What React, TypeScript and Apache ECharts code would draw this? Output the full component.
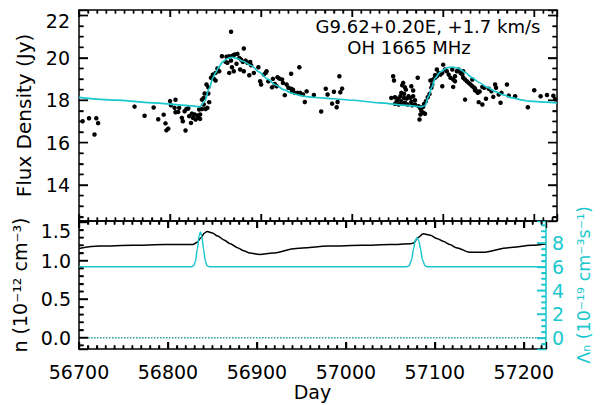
import { useEffect, useRef } from 'react';
import * as echarts from 'echarts';

// Single-dish monitoring of the OH 1665 MHz maser (MJD vs. flux density)
const obsDay = [
  56704, 56711, 56717, 56719, 56721, 56761, 56772, 56782, 56787, 56793,
  56795, 56798, 56796, 56800, 56801, 56806, 56805, 56806, 56809, 56810,
  56813, 56814, 56816, 56818, 56820, 56817, 56821, 56823, 56824, 56825,
  56827, 56828, 56830, 56831, 56833, 56833, 56835, 56837, 56839, 56841,
  56838, 56842, 56832, 56835, 56837, 56843, 56840, 56842, 56845, 56847,
  56848, 56850, 56850, 56852, 56854, 56857, 56862, 56865, 56869, 56871,
  56874, 56876, 56861, 56867, 56863, 56868, 56870, 56865, 56867, 56881,
  56873, 56878, 56880, 56883, 56885, 56888, 56877, 56881, 56887, 56889,
  56892, 56897, 56899, 56900, 56903, 56906, 56905, 56908, 56913, 56915,
  56918, 56920, 56923, 56917, 56912, 56924, 56928, 56930, 56933, 56926,
  56933, 56934, 56937, 56940, 56942, 56935, 56943, 56946, 56950, 56948,
  56958, 56966, 56971, 56973, 56980, 56986, 56989, 56987, 56978, 56984,
  56983, 57045, 57046, 57056, 57055, 57058, 57059, 57054, 57057, 57065,
  57067, 57072, 57043, 57047, 57049, 57051, 57053, 57054, 57057, 57060,
  57062, 57064, 57065, 57067, 57069, 57047, 57051, 57054, 57058, 57061,
  57066, 57069, 57073, 57075, 57076, 57078, 57076, 57078, 57075, 57080,
  57074, 57079, 57081, 57083, 57085, 57087, 57088, 57086, 57089, 57091,
  57093, 57091, 57093, 57095, 57097, 57099, 57100, 57102, 57104, 57106,
  57108, 57110, 57111, 57113, 57113, 57115, 57117, 57119, 57121, 57122,
  57124, 57126, 57128, 57130, 57132, 57099, 57111, 57124, 57122, 57132,
  57134, 57135, 57135, 57137, 57138, 57140, 57143, 57145, 57139, 57143,
  57147, 57150, 57153, 57155, 57157, 57158, 57161, 57164, 57163, 57170,
  57172, 57179, 57193, 57200, 57207, 57214, 57221, 57223,
];
const obsFlux = [
  17.01, 17.15, 16.38, 17.15, 16.92, 17.70, 17.27, 17.66, 17.10, 17.32,
  16.91, 16.66, 16.58, 17.96, 17.76, 18.02, 17.64, 17.43, 17.45, 17.64,
  17.17, 17.01, 17.48, 17.59, 17.61, 16.57, 17.25, 16.93, 17.37, 17.17,
  17.33, 17.09, 17.28, 17.17, 17.12, 17.33, 17.59, 17.80, 17.59, 17.64,
  18.32, 18.32, 17.56, 18.03, 18.11, 17.91, 18.74, 18.61, 19.06, 19.21,
  19.02, 18.93, 19.29, 19.50, 19.37, 20.08, 20.05, 20.08, 20.11, 20.16,
  20.19, 20.00, 19.81, 19.87, 19.77, 19.56, 19.37, 19.29, 21.23, 20.44,
  19.72, 19.92, 19.81, 19.87, 19.77, 19.81, 19.45, 19.37, 19.18, 19.65,
  19.29, 19.56, 18.90, 18.74, 19.21, 19.37, 19.29, 18.90, 19.01, 18.77,
  19.09, 19.02, 18.98, 18.66, 18.61, 18.82, 18.74, 18.59, 18.54, 18.24,
  19.25, 18.42, 18.35, 18.35, 19.56, 18.50, 18.35, 18.27, 18.42, 17.92,
  18.25, 17.47, 18.54, 18.27, 18.40, 19.13, 18.55, 18.38, 17.84, 17.92,
  17.67, 19.13, 18.93, 18.82, 18.71, 18.61, 18.50, 18.35, 18.30, 18.66,
  18.46, 19.06, 18.11, 18.14, 17.95, 18.08, 18.19, 17.95, 18.11, 18.08,
  18.19, 18.11, 17.92, 18.19, 18.00, 17.83, 17.80, 17.83, 17.88, 17.80,
  17.76, 17.80, 17.72, 17.61, 17.64, 17.69, 17.51, 17.41, 17.33, 17.36,
  17.09, 17.83, 17.95, 18.14, 18.30, 18.59, 18.74, 18.93, 18.98, 19.06,
  19.13, 19.18, 19.45, 19.29, 19.21, 19.29, 19.68, 19.45, 19.37, 19.21,
  19.06, 19.45, 18.98, 18.90, 19.13, 19.37, 19.45, 19.29, 19.21, 19.06,
  18.98, 18.90, 18.82, 18.74, 18.98, 18.66, 18.63, 18.03, 19.37, 18.66,
  18.59, 18.54, 18.47, 18.42, 18.35, 18.41, 18.63, 18.59, 17.91, 17.80,
  18.07, 18.54, 18.42, 18.16, 18.74, 18.59, 18.27, 18.35, 17.88, 18.74,
  18.22, 18.19, 17.67, 18.47, 18.19, 18.25, 18.21, 18.05,
];

// Model light curve
const fitDay = [
  56700, 56740, 56780, 56820, 56833, 56838, 56843, 56847, 56850, 56854,
  56858, 56863, 56868, 56874, 56880, 56889, 56898, 56907, 56916, 56925,
  56934, 56942, 56950, 56960, 56980, 57000, 57030, 57060, 57076, 57080,
  57084, 57088, 57091, 57097, 57104, 57110, 57117, 57124, 57132, 57139,
  57148, 57157, 57166, 57176, 57186, 57194, 57213, 57225,
];
const fitFlux = [
  18.14, 18.01, 17.88, 17.75, 17.70, 17.95, 18.55, 19.05, 19.30, 19.60,
  19.82, 19.97, 20.03, 19.97, 19.84, 19.64, 19.33, 19.00, 18.72, 18.50,
  18.33, 18.23, 18.17, 18.13, 18.07, 18.00, 17.88, 17.76, 17.69, 17.74,
  18.19, 18.66, 19.04, 19.34, 19.53, 19.57, 19.50, 19.31, 19.06, 18.85,
  18.62, 18.42, 18.25, 18.11, 18.02, 17.96, 17.91, 17.87,
];

// Maser gas density n (1e-12 cm^-3)
const densDay = [
  56700, 56723, 56760, 56797, 56828, 56833, 56837, 56841, 56844, 56850,
  56856, 56863, 56870, 56878, 56885, 56892, 56903, 56918, 56944, 56981,
  57018, 57050, 57073, 57076, 57081, 57087, 57095, 57102, 57110, 57117,
  57124, 57139, 57154, 57183, 57209, 57225,
];
const densVal = [
  1.16, 1.19, 1.20, 1.21, 1.21, 1.24, 1.30, 1.36, 1.38, 1.36,
  1.32, 1.27, 1.22, 1.17, 1.13, 1.10, 1.08, 1.10, 1.16, 1.19,
  1.20, 1.21, 1.22, 1.23, 1.30, 1.35, 1.33, 1.29, 1.25, 1.21,
  1.17, 1.11, 1.11, 1.17, 1.20, 1.22,
];

// Pump rate Lambda_n (1e-19 cm^-3 s^-1)
const pumpDay = [
  56700, 56826, 56829, 56831, 56833, 56835, 56836.5, 56838, 56840, 56842,
  56844, 56847, 57068, 57071, 57074, 57076, 57078, 57080, 57082, 57084,
  57086, 57089, 57092, 57225,
];
const pumpVal = [
  6.0, 6.0, 6.1, 6.5, 7.5, 8.6, 8.95, 8.6, 7.5, 6.5,
  6.1, 6.0, 6.0, 6.1, 6.6, 7.5, 8.2, 8.45, 8.2, 7.5,
  6.6, 6.1, 6.0, 6.0,
];

const zeroDay = [56700, 57225];
const zeroVal = [0, 0];

// Tick values (major) and minor-tick steps
const dayTicks = [56700, 56800, 56900, 57000, 57100, 57200];
const fluxTicks = [14, 16, 18, 20, 22];
const densTicks = [0, 0.5, 1.0, 1.5];
const pumpTicks = [0, 2, 4, 6, 8];
const dayMinorStep = 10;
const fluxMinorStep = 0.5;
const densMinorStep = 0.1;
const pumpMinorStep = 0.5;

const DAY_MIN = 56700;
const DAY_MAX = 57225;
const FLUX_MIN = 12.3;
const FLUX_MAX = 22.26;
const DENS_MIN = -0.147;
const DENS_MAX = 1.516;
const PUMP_MIN = -0.93;
const PUMP_MAX = 9.87;

const CYAN = '#1ac7cd';
const FONT = 'DejaVu Sans';
const PLOT_W = 478;
const TOP_RECT = { left: 79, top: 10, width: PLOT_W, height: 211 };
const BOT_RECT = { left: 79, top: 221, width: PLOT_W, height: 128 };
const TICK_W = 1.4;

const pairs = (xs: number[], ys: number[]) => xs.map((x, i) => [x, ys[i]]);

// [value, isMajor] for every major and minor tick inside [min, max]
function tickItems(majors: number[], step: number, min: number, max: number) {
  const items: number[][] = majors.filter((v) => v >= min && v <= max).map((v) => [v, 1]);
  const start = Math.ceil(min / step);
  const end = Math.floor(max / step);
  for (let k = start; k <= end; k++) {
    const v = +(k * step).toFixed(6);
    if (!majors.some((m) => Math.abs(m - v) < step / 100)) items.push([v, 0]);
  }
  return items;
}

type Edge = 'left' | 'right' | 'top' | 'bottom';

// Inward frame ticks as custom line elements placed through the axis scales
function tickLines(xAxisIndex: number, yAxisIndex: number, edge: Edge, items: number[][],
  edgeValue: number, color: string, majorLen: number, minorLen: number) {
  const vertical = edge === 'top' || edge === 'bottom';
  const sign = edge === 'left' || edge === 'top' ? 1 : -1;
  return {
    type: 'custom', xAxisIndex, yAxisIndex, silent: true, clip: false, z: 7,
    data: items.map(([v, m]) => (vertical ? [v, edgeValue, m] : [edgeValue, v, m])),
    encode: { x: 0, y: 1 },
    renderItem: (_p: any, api: any) => {
      const p = api.coord([api.value(0), api.value(1)]);
      const len = api.value(2) === 1 ? majorLen : minorLen;
      const shape = vertical
        ? { x1: p[0], y1: p[1], x2: p[0], y2: p[1] + sign * len }
        : { x1: p[0], y1: p[1], x2: p[0] + sign * len, y2: p[1] };
      return { type: 'line', shape, style: { stroke: color, lineWidth: TICK_W } };
    },
  };
}

// The same ticks as thin rect symbols (one series per tick length)
function tickRects(xAxisIndex: number, yAxisIndex: number, edge: Edge, values: number[],
  edgeValue: number, color: string, len: number) {
  const vertical = edge === 'top' || edge === 'bottom';
  const sign = edge === 'left' || edge === 'top' ? 1 : -1;
  return {
    type: 'scatter', xAxisIndex, yAxisIndex, silent: true, clip: false, z: 7,
    data: values.map((v) => (vertical ? [v, edgeValue] : [edgeValue, v])),
    symbol: 'rect',
    symbolSize: vertical ? [TICK_W, len] : [len, TICK_W],
    symbolOffset: vertical ? [0, (sign * len) / 2] : [(sign * len) / 2, 0],
    itemStyle: { color, opacity: 1 },
  };
}

function edgeTicks(xAxisIndex: number, yAxisIndex: number, edge: Edge, items: number[][],
  edgeValue: number, color: string, majorLen: number, minorLen: number) {
  const majors = items.filter((it) => it[1] === 1).map((it) => it[0]);
  const minors = items.filter((it) => it[1] === 0).map((it) => it[0]);
  return [
    tickLines(xAxisIndex, yAxisIndex, edge, items, edgeValue, color, majorLen, minorLen),
    tickRects(xAxisIndex, yAxisIndex, edge, majors, edgeValue, color, majorLen),
    tickRects(xAxisIndex, yAxisIndex, edge, minors, edgeValue, color, minorLen),
  ];
}

function frameX(gridIndex: number, position: 'top' | 'bottom', labels: boolean) {
  return {
    type: 'value', gridIndex, position, min: DAY_MIN, max: DAY_MAX, interval: 100,
    name: labels ? 'Day' : '', nameLocation: 'middle', nameGap: 33,
    nameTextStyle: { color: '#000', fontFamily: FONT, fontSize: 19 },
    axisLine: { show: true, onZero: false, lineStyle: { color: '#000', width: 1.5 } },
    axisTick: { show: true, inside: true, length: 7, lineStyle: { color: '#000', width: TICK_W } },
    minorTick: { show: true, splitNumber: 10, length: 3.5, lineStyle: { color: '#000', width: TICK_W } },
    axisLabel: {
      show: labels, showMaxLabel: false, color: '#000', fontFamily: FONT, fontSize: 19, margin: 13,
      formatter: (v: number) => String(v),
    },
    splitLine: { show: false },
  };
}

const headerTexts = [
  {
    type: 'text', x: 428, y: 26,
    style: { text: 'G9.62+0.20E, +1.7 km/s', fontFamily: FONT, fontSize: 18, fill: '#000', align: 'center', verticalAlign: 'middle' },
  },
  {
    type: 'text', x: 409, y: 47,
    style: { text: 'OH 1665 MHz', fontFamily: FONT, fontSize: 18, fill: '#000', align: 'center', verticalAlign: 'middle' },
  },
];

export default function App() {
  const ref = useRef<HTMLDivElement>(null);

  useEffect(() => {
    const chart = echarts.init(ref.current!, undefined, { renderer: 'svg' });
    const dayItems = tickItems(dayTicks, dayMinorStep, DAY_MIN, DAY_MAX);
    const fluxItems = tickItems(fluxTicks, fluxMinorStep, FLUX_MIN, FLUX_MAX);
    const densItems = tickItems(densTicks, densMinorStep, DENS_MIN, DENS_MAX);
    const pumpItems = tickItems(pumpTicks, pumpMinorStep, PUMP_MIN, PUMP_MAX);
    const blackTick = { color: '#000', width: TICK_W };
    const option = {
      animation: false,
      backgroundColor: '#fff',
      grid: [TOP_RECT, BOT_RECT],
      xAxis: [
        frameX(0, 'bottom', false),
        frameX(0, 'top', false),
        frameX(1, 'bottom', true),
        frameX(1, 'top', false),
      ],
      yAxis: [
        {
          type: 'value', gridIndex: 0, position: 'left', min: FLUX_MIN, max: FLUX_MAX, splitNumber: 5,
          name: 'Flux Density (Jy)', nameLocation: 'middle', nameRotate: 90, nameGap: 45,
          nameTextStyle: { color: '#000', fontFamily: FONT, fontSize: 20 },
          axisLine: { show: true, onZero: false, lineStyle: { color: '#000', width: 1.5 } },
          axisTick: { show: true, inside: true, length: 9, lineStyle: blackTick },
          minorTick: { show: true, splitNumber: 4, length: 4.5, lineStyle: blackTick },
          axisLabel: {
            showMinLabel: false, showMaxLabel: false, color: '#000', fontFamily: FONT, fontSize: 19, margin: 9,
            formatter: (v: number) => (v === 22 ? '{t|22}' : String(v)),
            rich: { t: { padding: [10, 0, 0, 0], color: '#000', fontFamily: FONT, fontSize: 19 } },
          },
          splitLine: { show: false },
        },
        {
          type: 'value', gridIndex: 0, position: 'right', min: FLUX_MIN, max: FLUX_MAX, splitNumber: 5,
          axisLine: { show: true, onZero: false, lineStyle: { color: '#000', width: 1.5 } },
          axisTick: { show: true, inside: true, length: 9, lineStyle: blackTick },
          minorTick: { show: true, splitNumber: 4, length: 4.5, lineStyle: blackTick },
          axisLabel: { show: false },
          splitLine: { show: false },
        },
        {
          type: 'value', gridIndex: 1, position: 'left', min: DENS_MIN, max: DENS_MAX, splitNumber: 3,
          name: 'n (10⁻¹² cm⁻³)', nameLocation: 'middle', nameRotate: 90, nameGap: 45,
          nameTextStyle: { color: '#000', fontFamily: FONT, fontSize: 19 },
          axisLine: { show: true, onZero: false, lineStyle: { color: '#000', width: 1.5 } },
          axisTick: { show: true, inside: true, length: 9, lineStyle: blackTick },
          minorTick: { show: true, splitNumber: 5, length: 4.5, lineStyle: blackTick },
          axisLabel: {
            showMinLabel: false, showMaxLabel: false, color: '#000', fontFamily: FONT, fontSize: 19, margin: 8,
            formatter: (v: number) => (v === 1.5 ? '{t|1.5}' : v.toFixed(1)),
            rich: { t: { padding: [17, 0, 0, 0], color: '#000', fontFamily: FONT, fontSize: 19 } },
          },
          splitLine: { show: false },
        },
        {
          type: 'value', gridIndex: 1, position: 'right', min: PUMP_MIN, max: PUMP_MAX, splitNumber: 5,
          name: 'Λₙ (10⁻¹⁹ cm⁻³s⁻¹)', nameLocation: 'middle', nameRotate: 90, nameGap: 18,
          nameTextStyle: { color: CYAN, fontFamily: FONT, fontSize: 17.5 },
          axisLine: { show: true, onZero: false, lineStyle: { color: CYAN, width: 1.5 } },
          axisTick: { show: true, inside: true, length: 9, lineStyle: { color: CYAN, width: TICK_W } },
          minorTick: { show: true, splitNumber: 4, length: 4.5, lineStyle: { color: CYAN, width: TICK_W } },
          axisLabel: {
            showMinLabel: false, showMaxLabel: false, color: CYAN, fontFamily: FONT, fontSize: 19, margin: 6,
          },
          splitLine: { show: false },
        },
      ],
      graphic: headerTexts,
      series: [
        {
          type: 'scatter', xAxisIndex: 0, yAxisIndex: 0, data: pairs(obsDay, obsFlux),
          symbol: 'circle', symbolSize: 4.5, itemStyle: { color: '#000', opacity: 1 }, z: 2,
        },
        {
          type: 'line', xAxisIndex: 0, yAxisIndex: 0, data: pairs(fitDay, fitFlux),
          showSymbol: false, smooth: 0.3, smoothMonotone: 'x',
          lineStyle: { color: CYAN, width: 1.7 }, z: 3,
        },
        {
          type: 'line', xAxisIndex: 2, yAxisIndex: 2, data: pairs(zeroDay, zeroVal),
          showSymbol: false, lineStyle: { color: '#2e9c9c', width: 1.5, type: [1.5, 1.5] },
        },
        {
          type: 'line', xAxisIndex: 2, yAxisIndex: 2, data: pairs(densDay, densVal),
          showSymbol: false, smooth: 0.3, smoothMonotone: 'x',
          lineStyle: { color: '#000', width: 1.5 },
        },
        {
          type: 'line', xAxisIndex: 2, yAxisIndex: 3, data: pairs(pumpDay, pumpVal),
          showSymbol: false, smooth: 0.3, smoothMonotone: 'x',
          lineStyle: { color: CYAN, width: 1.5 },
        },
        // frame ticks, lower panel
        ...edgeTicks(2, 2, 'bottom', dayItems, DENS_MIN, '#000', 7, 3.5),
        ...edgeTicks(2, 2, 'top', dayItems, DENS_MAX, '#000', 7, 3.5),
        ...edgeTicks(2, 2, 'left', densItems, DAY_MIN, '#000', 9, 4.5),
        ...edgeTicks(2, 3, 'right', pumpItems, DAY_MAX, CYAN, 9, 4.5),
      ],
    };
    chart.setOption(option as any);

    // Upper-panel frame ticks: positions come from the panel's own axes via convertToPixel
    const finder = { xAxisIndex: 0, yAxisIndex: 0 };
    const tickStyle = { stroke: '#000', lineWidth: TICK_W };
    const frameTicks: any[] = [];
    const addLine = (x1: number, y1: number, x2: number, y2: number) => {
      frameTicks.push({ type: 'line', silent: true, z: 100, shape: { x1, y1, x2, y2 }, style: tickStyle });
    };
    dayItems.forEach(([v, m]) => {
      const len = m === 1 ? 7 : 3.5;
      const lo = chart.convertToPixel(finder, [v, FLUX_MIN]) as number[] | undefined;
      const hi = chart.convertToPixel(finder, [v, FLUX_MAX]) as number[] | undefined;
      if (lo) addLine(lo[0], lo[1], lo[0], lo[1] - len);
      if (hi) addLine(hi[0], hi[1], hi[0], hi[1] + len);
    });
    fluxItems.forEach(([v, m]) => {
      const len = m === 1 ? 9 : 4.5;
      const l = chart.convertToPixel(finder, [DAY_MIN, v]) as number[] | undefined;
      const r = chart.convertToPixel(finder, [DAY_MAX, v]) as number[] | undefined;
      if (l) addLine(l[0], l[1], l[0] + len, l[1]);
      if (r) addLine(r[0], r[1], r[0] - len, r[1]);
    });
    chart.setOption({ graphic: [...headerTexts, ...frameTicks] } as any);

    return () => chart.dispose();
  }, []);

  return (
    <div
      ref={ref}
      style={{ position: 'fixed', left: 0, top: 0, width: 601, height: 405, background: '#fff' }}
    />
  );
}
